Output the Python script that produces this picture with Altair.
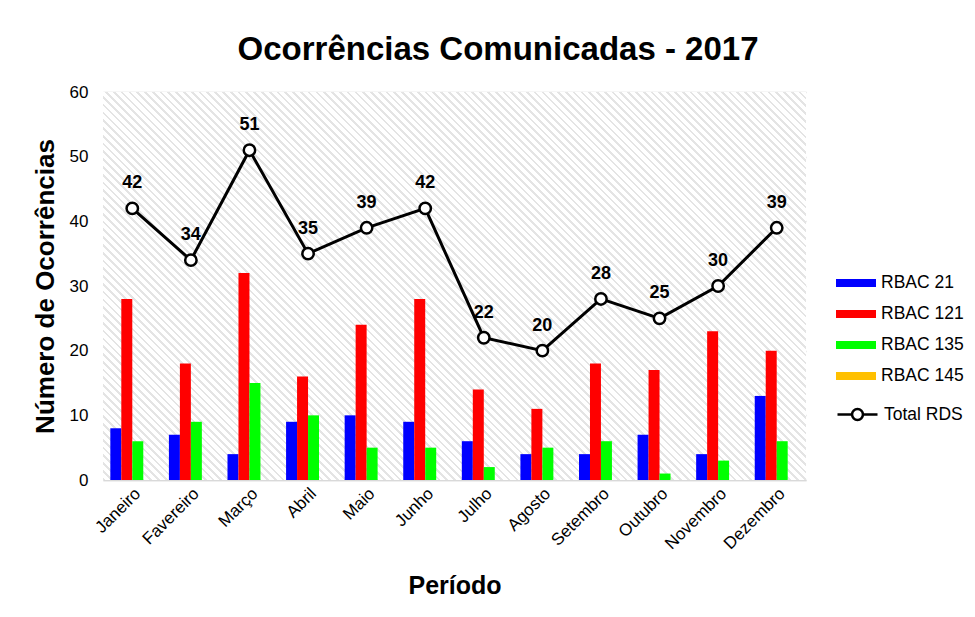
import altair as alt
import pandas as pd

months = ["Janeiro", "Favereiro", "Março", "Abril", "Maio", "Junho", "Julho",
          "Agosto", "Setembro", "Outubro", "Novembro", "Dezembro"]
rbac21 = [8, 7, 4, 9, 10, 9, 6, 4, 4, 7, 4, 13]
rbac121 = [28, 18, 32, 16, 24, 28, 14, 11, 18, 17, 23, 20]
rbac135 = [6, 9, 15, 10, 5, 5, 2, 5, 6, 1, 3, 6]
rbac145 = [0, 0, 0, 0, 0, 0, 0, 0, 0, 0, 0, 0]
total = [42, 34, 51, 35, 39, 42, 22, 20, 28, 25, 30, 39]

series = ["RBAC 21", "RBAC 121", "RBAC 135", "RBAC 145"]
colors = ["#0000ff", "#ff0000", "#00ff00", "#ffc000"]

rows = []
for name, vals in zip(series, [rbac21, rbac121, rbac135, rbac145]):
    for m, v in zip(months, vals):
        rows.append({"mes": m, "serie": name, "valor": v})
bars_df = pd.DataFrame(rows)
tot_df = pd.DataFrame({"mes": months, "total": total, "serie": ["Total RDS"] * len(months)})

W, H = 703, 388
FONT = "Liberation Sans"

# diagonal hatch background via a striped linear gradient
r = H / W
a = (1 + r) / (1 + r * r)
b = a * r
N = 140
stops = []
for i in range(N):
    o = i / N
    stops += [
        {"offset": o, "color": "#e4e4e4"},
        {"offset": o + 0.35 / N, "color": "#e4e4e4"},
        {"offset": o + 0.35 / N, "color": "#ffffff"},
        {"offset": (i + 1) / N, "color": "#ffffff"},
    ]
hatch = {"gradient": "linear", "x1": 0, "y1": 1, "x2": a, "y2": 1 - b, "stops": stops}

xenc = alt.X("mes:N", sort=months, title="Período",
             scale=alt.Scale(paddingInner=0.25, paddingOuter=0.125),
             axis=alt.Axis(labelAngle=315, labelFontSize=17, labelColor="#000000",
                           labelPadding=5, ticks=False, domainColor="#d9d9d9",
                           domainWidth=1.5, titleFontSize=25, titleFontWeight="bold",
                           titleColor="#000000", titlePadding=22))
yscale = alt.Scale(domain=[0, 60])
yaxis = alt.Axis(values=[0, 10, 20, 30, 40, 50, 60], labelFontSize=17, labelColor="#000000",
                 labelPadding=15, ticks=False, domain=False, gridColor="#d9d9d9",
                 gridWidth=1.5, titleFontSize=26, titleFontWeight="bold",
                 titleColor="#000000", titlePadding=11)

line_path = ("M-1.25,0H-0.34M0.34,0H1.25M0.34,0A0.34,0.34,0,1,1,-0.34,0"
             "A0.34,0.34,0,1,1,0.34,0Z")
bar_path = "M-1.25,-0.25H1.25V0.25H-1.25Z"

bar_legend = alt.Legend(
    title=None, orient="none", legendX=737, legendY=175, padding=0,
    labelFontSize=17.5, labelColor="#000000", labelFont=FONT,
    symbolSize=1024, rowPadding=6, labelOffset=9, symbolType=bar_path,
    symbolOpacity=1, symbolStrokeWidth=0,
)
line_legend = alt.Legend(
    title=None, orient="none", legendX=737, legendY=305, padding=0,
    labelFontSize=17.5, labelColor="#000000", labelFont=FONT,
    symbolSize=1024, rowPadding=0, labelOffset=9, symbolType=line_path,
    symbolFillColor="#ffffff", symbolStrokeColor="#000000", symbolStrokeWidth=2.5,
    symbolOpacity=1,
)

bg = alt.Chart(pd.DataFrame({"k": [0]})).mark_rect(fill=hatch).encode(
    x=alt.value(0), x2=alt.value("width"), y=alt.value(0), y2=alt.value("height"))

bars = alt.Chart(bars_df).mark_bar(opacity=1).encode(
    x=xenc,
    xOffset=alt.XOffset("serie:N", sort=series, scale=alt.Scale(paddingInner=0, paddingOuter=0)),
    y=alt.Y("valor:Q", scale=yscale, axis=yaxis, title="Número de Ocorrências"),
    color=alt.Color("serie:N", sort=series,
                    scale=alt.Scale(domain=series, range=colors), legend=bar_legend),
)

line = alt.Chart(tot_df).mark_line(strokeWidth=3).encode(
    x=alt.X("mes:N", sort=months),
    y=alt.Y("total:Q", scale=yscale),
    stroke=alt.Stroke("serie:N", scale=alt.Scale(domain=["Total RDS"], range=["#000000"]),
                      legend=line_legend),
)

pts = alt.Chart(tot_df).mark_point(filled=True, fill="#ffffff", stroke="#000000",
                                   strokeWidth=2.5, size=130, opacity=1).encode(
    x=alt.X("mes:N", sort=months),
    y=alt.Y("total:Q", scale=yscale),
)

labels = alt.Chart(tot_df).mark_text(dy=-25, fontSize=18, fontWeight="bold",
                                     color="#000000", font=FONT).encode(
    x=alt.X("mes:N", sort=months),
    y=alt.Y("total:Q", scale=yscale),
    text="total:Q",
)

chart = alt.layer(bg, bars, line, pts, labels).resolve_scale(
    color="independent", stroke="independent"
).properties(
    width=W, height=H,
    title=alt.TitleParams("Ocorrências Comunicadas - 2017", fontSize=33, fontWeight="bold",
                          font=FONT, color="#000000", anchor="middle", frame="bounds",
                          offset=16),
    padding={"left": 24, "top": 26, "right": 0, "bottom": 0},
).configure(font=FONT).configure_view(stroke="transparent").configure_axis(
    labelFont=FONT, titleFont=FONT)

chart.save("out.html", embed_options={"renderer": "svg", "actions": False})
